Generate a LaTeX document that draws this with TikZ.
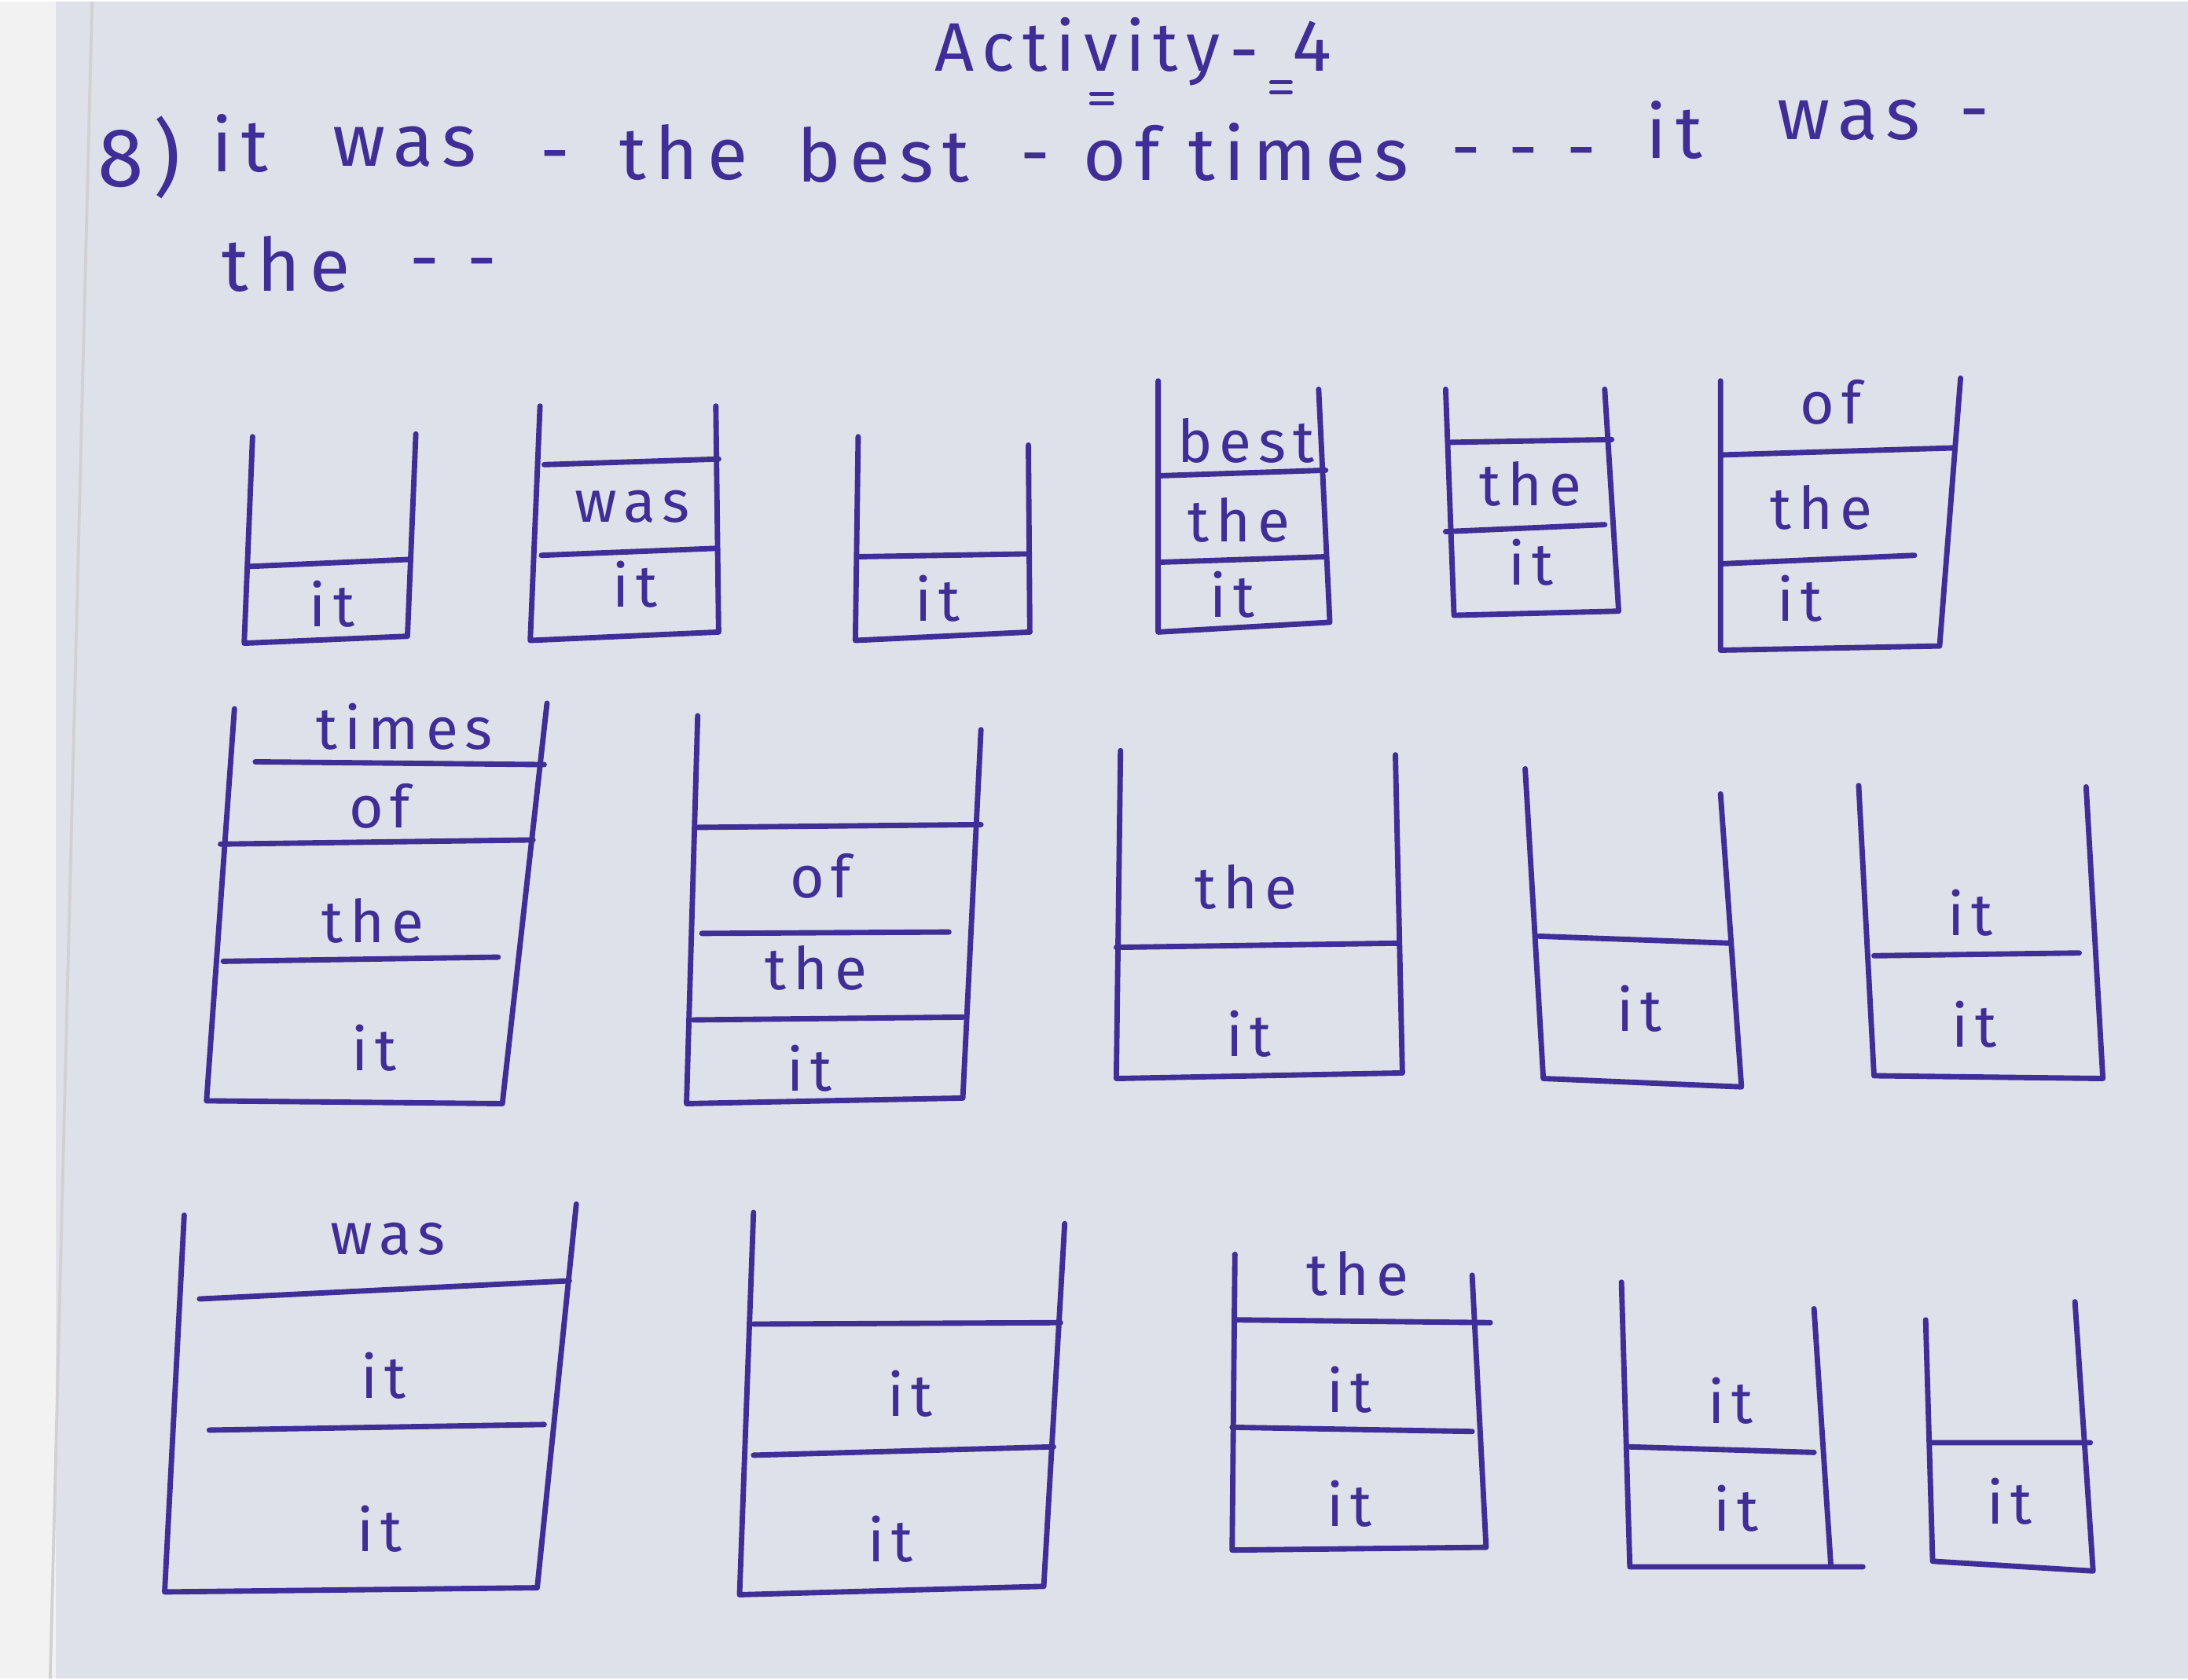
\documentclass[tikz,border=0pt]{standalone}
\usepackage{fontspec}
\setmainfont{Fira Sans}[LetterSpace=12]
\usepackage{tikz}
\definecolor{paper}{RGB}{222,225,233}
\definecolor{inkblue}{RGB}{62,46,150}
\begin{document}
\begin{tikzpicture}[x=0.01cm,y=-0.01cm,
  ink/.style={draw=inkblue,line width=1.1pt,line cap=round,line join=round},
  word/.style={text=inkblue,inner sep=0pt,font=\fontsize{12}{14}\selectfont},
  head/.style={word,font=\fontsize{15}{17}\selectfont}]
 \fill[paper] (0,0) rectangle (1568,1202);
 \fill[black!5] (0,0) rectangle (40,1202);
 \draw[black!18,line width=.6pt] (66,0)--(36,1202);
 % heading
 \node[head,font=\fontsize{14}{16}\selectfont] (title) at (772,36) {Activity};
 \node[head] (tdash) at (892,44) {-};
 \node[head] (tfour) at (940,32) {4};
 \draw[ink,line width=.8pt] (782,66)--(797,66) (782,73)--(797,73) (911,58)--(925,58) (911,65)--(925,65);
 \node[head,font=\fontsize{17}{19}\selectfont] (qno) at (100,112) {8)};
 \foreach \w/\x/\y [count=\i] in {it/172/102,was/290/104,-/398/116,the/490/108,best/633/110,
   -/742/118,of times/893/108,- - -/1092/114,it/1200/92,was/1325/85,-/1415/86}
  \node[head] (hw\i) at (\x,\y) {\w};
 \node[head] (hthe) at (205,188) {the};
 \node[head] (hdash) at (325,193) {- -};
 % row 1
 \draw[ink] (181,312)--(175,460)--(292,455)--(298,310) (178,405)--(292,400);
 \node[word] (sa1) at (238,432) {it};
 \draw[ink] (387,290)--(380,458)--(515,452)--(513,290) (390,332)--(515,328) (388,397)--(513,392);
 \node[word] (sb2) at (453,362) {was};
 \node[word] (sb1) at (455,418) {it};
 \draw[ink] (615,312)--(613,458)--(738,452)--(737,318) (615,398)--(735,396);
 \node[word] (sc1) at (672,428) {it};
 \draw[ink] (830,272)--(830,452)--(953,445)--(945,278) (830,340)--(950,336) (830,402)--(950,398);
 \node[word] (sd3) at (893,315) {best};
 \node[word] (sd2) at (888,372) {the};
 \node[word] (sd1) at (883,425) {it};
 \draw[ink] (1036,278)--(1042,440)--(1160,437)--(1150,278) (1040,316)--(1155,314) (1036,380)--(1150,375);
 \node[word] (se2) at (1097,346) {the};
 \node[word] (se1) at (1097,402) {it};
 \draw[ink] (1233,272)--(1233,465)--(1390,462)--(1405,270) (1235,403)--(1372,397) (1235,325)--(1400,320);
 \node[word] (sf3) at (1312,287) {of};
 \node[word] (sf2) at (1305,363) {the};
 \node[word] (sf1) at (1290,428) {it};
 % row 2
 \draw[ink] (168,507)--(148,788)--(360,790)--(392,503) (183,545)--(390,547) (158,604)--(382,601) (160,688)--(357,685);
 \node[word] (sg4) at (290,520) {times};
 \node[word] (sg3) at (272,577) {of};
 \node[word] (sg2) at (267,659) {the};
 \node[word] (sg1) at (268,750) {it};
 \draw[ink] (500,512)--(492,790)--(690,786)--(703,522) (500,592)--(703,590) (503,668)--(680,667) (497,730)--(690,728);
 \node[word] (sh3) at (588,627) {of};
 \node[word] (sh2) at (585,693) {the};
 \node[word] (sh1) at (580,765) {it};
 \draw[ink] (803,537)--(800,772)--(1005,768)--(1000,540) (800,678)--(1002,675);
 \node[word] (si2) at (893,635) {the};
 \node[word] (si1) at (895,740) {it};
 \draw[ink] (1093,550)--(1106,772)--(1248,778)--(1233,568) (1103,670)--(1240,675);
 \node[word] (sj1) at (1175,722) {it};
 \draw[ink] (1332,562)--(1343,770)--(1507,772)--(1495,563) (1343,684)--(1490,682);
 \node[word] (sk2) at (1412,653) {it};
 \node[word] (sk1) at (1415,733) {it};
 % row 3
 \draw[ink] (132,870)--(118,1140)--(385,1137)--(413,862) (143,930)--(408,917) (150,1024)--(390,1020);
 \node[word] (sl3) at (278,887) {was};
 \node[word] (sl2) at (275,985) {it};
 \node[word] (sl1) at (272,1095) {it};
 \draw[ink] (540,868)--(530,1142)--(748,1136)--(763,876) (540,948)--(760,947) (540,1042)--(755,1036);
 \node[word] (sm2) at (652,998) {it};
 \node[word] (sm1) at (638,1102) {it};
 \draw[ink] (885,898)--(883,1110)--(1065,1108)--(1055,913) (885,945)--(1068,947) (883,1022)--(1055,1025);
 \node[word] (sn3) at (973,912) {the};
 \node[word] (sn2) at (967,995) {it};
 \node[word] (sn1) at (967,1077) {it};
 \draw[ink] (1162,918)--(1168,1122)--(1335,1122) (1312,1120)--(1300,937) (1168,1036)--(1300,1040);
 \node[word] (so2) at (1240,1003) {it};
 \node[word] (so1) at (1244,1080) {it};
 \draw[ink] (1380,945)--(1385,1118)--(1500,1125)--(1487,932) (1385,1033)--(1498,1033);
 \node[word] (sp1) at (1440,1075) {it};
\end{tikzpicture}
\end{document}
